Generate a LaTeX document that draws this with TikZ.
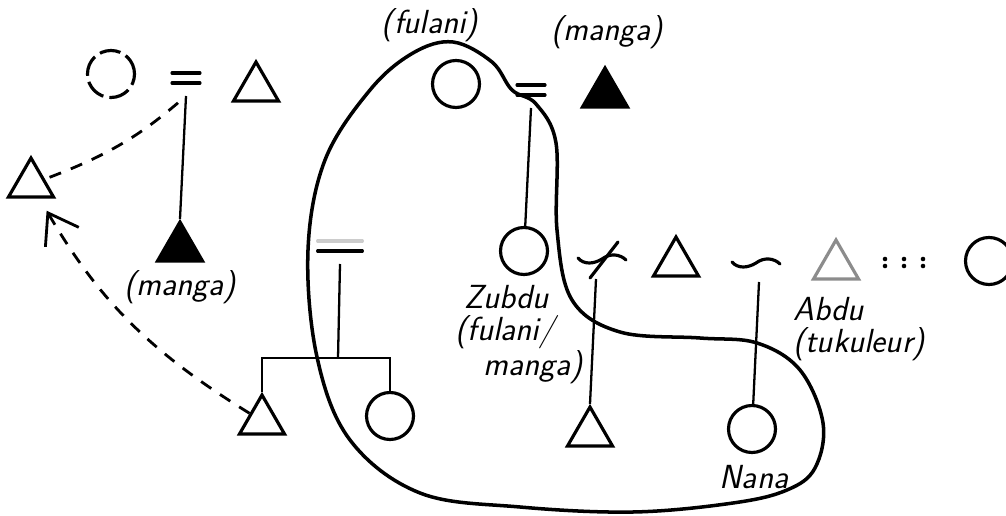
\documentclass[tikz,border=0pt]{standalone}
\usepackage{fontspec}
\usetikzlibrary{shapes.geometric, arrows.meta}
\tikzset{
    kin/.style={draw, line width=1.8pt, inner sep=0pt},
    male/.style={kin, regular polygon, regular polygon sides=3,
        minimum size=1.04cm},
    female/.style={kin, circle, minimum size=.94cm},
    manga/.style={fill=black},
    descent/.style={line width=1.3pt},
    bar/.style={line width=1.8pt, line cap=round},
    kinlink/.style={line width=1.6pt, dash pattern=on 7pt off 6pt},
    kinlabel/.style={font=\sffamily\slshape\fontsize{19}{18}\selectfont,
        inner sep=0pt},
    % marriage sign, #1 styles the upper bar
    wedlock/.pic={
        \draw[bar, #1] (-14,-5) -- (14,-5);
        \draw[bar] (-14,5) -- (14,5);
        \coordinate (-foot) at (0,18);
    },
    tildebond/.pic={
        \draw[bar] (-24,-1) .. controls (-18,6) and (-8,5) .. (0,0)
            .. controls (8,-6) and (18,-5) .. (24,1);
        \coordinate (-foot) at (3,19);
    },
    crossedbond/.pic={
        \draw[bar] (-24,-1) .. controls (-18,6) and (-8,5) .. (0,0)
            .. controls (8,-6) and (18,-5) .. (24,1);
        \draw[bar] (16,-17) -- (-12,19);
        \coordinate (-foot) at (-6,20);
    },
}

\begin{document}
\begin{tikzpicture}[x=0.02cm, y=-0.02cm]
    \useasboundingbox (0,0) rectangle (1006,516);

    % the group marked off
    \draw[line width=2pt] plot[smooth cycle, tension=.6] coordinates {
        (453,42) (492,62) (512,90) (536,104) (556,143) (557,230) (572,300)
        (620,332) (700,338) (757,343) (800,370) (823,423) (815,468)
        (787,490) (733,503) (633,512) (520,507) (420,493) (350,440)
        (317,357) (308,250) (325,160) (370,90) (413,53)};

    % first couple
    \node[female, dash pattern=on 12pt off 3.5pt] (c1) at (111,74) {};
    \pic (w1) at (186,78) {wedlock=black};
    \node[male] (t1) at (256,88) {};
    \node[male] (t0) at (31,184) {};
    \node[male, manga] (tf1) at (180,248) {};
    \node[kinlabel] (lab1) at (180,287) {(manga)};

    % second couple
    \node[female] (c2) at (456,84) {};
    \node[kinlabel] (lab2) at (430,25) {(fulani)};
    \pic (w2) at (531,90) {wedlock=black};
    \node[male, manga] (t2) at (605,94) {};
    \node[kinlabel] (lab3) at (607,32) {(manga)};

    % Zubdu and the row of spouses
    \node[female] (c3) at (524,251) {};
    \node[kinlabel, anchor=north west, align=left] (zubdu) at (455,285)
        {\hspace*{5pt}Zubdu\\(fulani/\\\hspace*{16pt}manga)};
    \pic (div) at (602,259) {crossedbond};
    \node[male] (t6) at (676,263) {};
    \pic (mar3) at (756,263) {tildebond};
    \node[male, draw=black!45] (t7) at (836,266) {};
    \foreach \x in {885,904,923}
        \fill (\x,259) circle (1.3pt) (\x,266) circle (1.3pt);
    \node[female] (c8) at (989,261) {};
    \node[kinlabel, anchor=north west, align=left] (abdu) at (793,297)
        {Abdu\\(tukuleur)};

    % children
    \node[male] (t5) at (590,433) {};
    \node[female] (c9) at (752,429) {};
    \node[kinlabel] (nana) at (754,477) {Nana};

    % siblings
    \pic[xscale=1.6] (w3) at (340,246) {wedlock=black!20};
    \coordinate (sib) at (338,358);
    \node[male] (t3) at (262,421) {};
    \node[female] (c4) at (390,416) {};

    \draw[descent] (w1-foot) -- (tf1.north);
    \draw[descent] (w2-foot) -- (c3);
    \draw[descent] (div-foot) -- (t5.north);
    \draw[descent] (mar3-foot) -- (c9);
    \draw[descent] (w3-foot) -- (sib);
    \draw[descent] (t3.north) -- (t3.north |- sib) -- (c4.north |- sib)
        -- (c4.north);

    \draw[kinlink, shorten <=6pt] (w1-foot) to[bend left=10] (t0);
    \draw[kinlink, -{Straight Barb[length=16pt, width=22pt]},
        shorten >=8pt] (t3) to[bend left=14] (t0);
\end{tikzpicture}
\end{document}
